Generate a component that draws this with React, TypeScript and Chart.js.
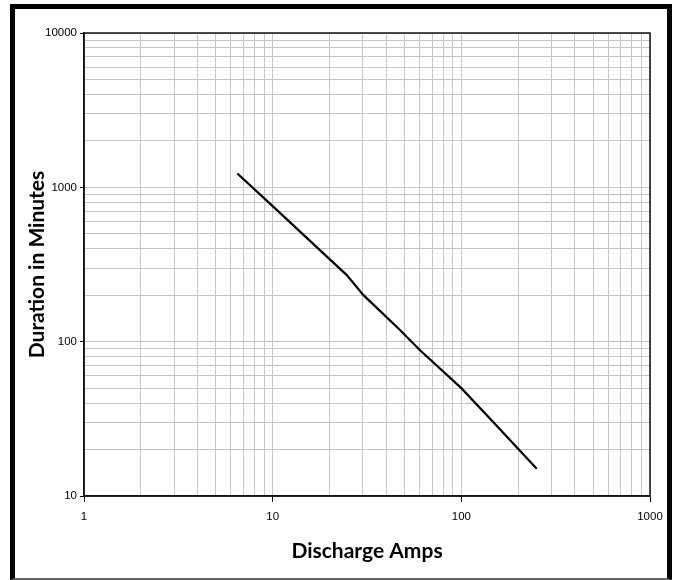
import React, { useEffect, useRef } from "react";
import { Chart, registerables } from "chart.js";

Chart.register(...registerables);

const ampsValues = [6.5, 10, 16.4, 24.7, 30.2, 47.3, 60.4, 100, 150, 251];
const minutesValues = [1230, 755, 430, 270, 201, 119, 88, 50, 29.5, 15];
const xTickValues = [1, 2, 3, 4, 5, 6, 7, 8, 9, 10, 20, 30, 40, 50, 60, 70, 80, 90, 100, 200, 300, 400, 500, 600, 700, 800, 900, 1000];
const yTickValues = [10, 20, 30, 40, 50, 60, 70, 80, 90, 100, 200, 300, 400, 500, 600, 700, 800, 900, 1000, 2000, 3000, 4000, 5000, 6000, 7000, 8000, 9000, 10000];
const xAxisTitle = "Discharge Amps";
const yAxisTitle = "Duration in Minutes";

const isMajor = (v: number) => Math.abs(Math.log10(v) - Math.round(Math.log10(v))) < 1e-9;

const tickFont = { family: "'Liberation Sans Narrow', 'Arial Narrow', 'Liberation Sans', sans-serif", size: 11.5 };
const titleFont = { family: "Lato, 'Open Sans', sans-serif", size: 21, weight: "bold" as const, lineHeight: 1.2 };

const plotBorder = {
  id: "plotBorder",
  afterDatasetsDraw(chart: any) {
    const { ctx, chartArea } = chart;
    ctx.save();
    ctx.strokeStyle = "#111";
    ctx.lineWidth = 1.5;
    ctx.strokeRect(chartArea.left, chartArea.top, chartArea.right - chartArea.left, chartArea.bottom - chartArea.top);
    ctx.restore();
  },
};

export default function App() {
  const ref = useRef<HTMLCanvasElement>(null);
  useEffect(() => {
    if (!ref.current) return;
    const data = ampsValues.map((x, i) => ({ x, y: minutesValues[i] }));
    const chart = new Chart(ref.current, {
      type: "scatter",
      data: {
        datasets: [
          {
            data,
            showLine: true,
            borderColor: "#000",
            borderWidth: 2.2,
            pointRadius: 0,
            tension: 0,
          },
        ],
      },
      options: {
        responsive: false,
        animation: false,
        layout: { padding: { top: 33, right: 27, bottom: 0, left: 0 } },
        plugins: { legend: { display: false }, tooltip: { enabled: false } },
        scales: {
          x: {
            type: "logarithmic",
            min: 1,
            max: 1000,
            afterBuildTicks: (s: any) => {
              s.ticks = xTickValues.map((v) => ({ value: v, major: isMajor(v) }));
            },
            afterFit: (s: any) => {
              s.height = 84;
            },
            ticks: {
              autoSkip: false,
              maxRotation: 0,
              padding: 8,
              color: "#000",
              font: tickFont,
              callback: (v: any) => (isMajor(Number(v)) ? String(v) : ""),
            },
            grid: {
              color: "#c4c4c4",
              lineWidth: 1,
              tickLength: 6,
              tickColor: (c: any) => (c.tick && isMajor(c.tick.value) ? "#000" : "rgba(0,0,0,0)"),
            },
            border: { display: true, color: "#111", width: 1.5 },
            title: { display: true, text: xAxisTitle, color: "#000", font: titleFont, padding: { top: 0, bottom: 16 } },
          },
          y: {
            type: "logarithmic",
            min: 10,
            max: 10000,
            afterBuildTicks: (s: any) => {
              s.ticks = yTickValues.map((v) => ({ value: v, major: isMajor(v) }));
            },
            afterFit: (s: any) => {
              s.width = 84;
            },
            ticks: {
              autoSkip: false,
              padding: 3,
              color: "#000",
              font: tickFont,
              callback: (v: any) => (isMajor(Number(v)) ? String(v) : ""),
            },
            grid: {
              color: "#c4c4c4",
              lineWidth: 1,
              tickLength: 4,
              tickColor: (c: any) => (c.tick && isMajor(c.tick.value) ? "#000" : "rgba(0,0,0,0)"),
            },
            border: { display: true, color: "#111", width: 1.5 },
            title: { display: true, text: yAxisTitle, color: "#000", font: titleFont, padding: { top: 25, bottom: 0 } },
          },
        },
      },
      plugins: [plotBorder],
    } as any);
    return () => chart.destroy();
  }, []);

  return (
    <div style={{ position: "absolute", left: 0, top: 0, width: 677, height: 580, background: "#fff", overflow: "hidden" }}>
      <canvas ref={ref} width={677} height={580} style={{ position: "absolute", left: 0, top: 0, width: 677, height: 580 }} />
      <div
        style={{
          position: "absolute",
          left: 10,
          top: 4,
          width: 652,
          height: 569,
          borderLeft: "5px solid #000",
          borderTop: "5px solid #000",
          borderRight: "5px solid #000",
          borderBottom: "2px solid #666",
          pointerEvents: "none",
        }}
      />
    </div>
  );
}
